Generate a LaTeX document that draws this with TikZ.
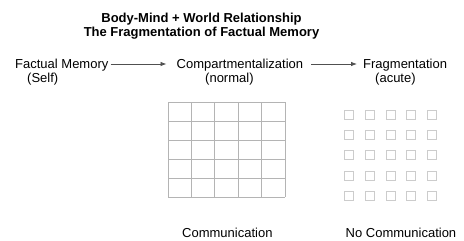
\documentclass[tikz,border=0pt]{standalone}
\usepackage{fontspec}
\setmainfont{Liberation Sans}
\usetikzlibrary{arrows.meta}
\definecolor{cellgray}{HTML}{B4B4B4}
\definecolor{boxgray}{HTML}{CCCCCC}
\definecolor{arrowgray}{HTML}{505050}
\tikzset{
  lbl/.style={anchor=base west,inner sep=0pt,text height=10pt,text depth=2pt,font=\fontsize{13}{15}\selectfont},
  ttl/.style={anchor=base,inner sep=0pt,font=\fontsize{13}{15}\selectfont\bfseries},
  flow/.style={draw=arrowgray,line width=0.8pt,-{Latex[length=6pt,width=4.5pt]}},
  cell/.style={draw=cellgray,line width=1pt},
  bit/.style={draw=boxgray,line width=1pt}
}
\begin{document}
\begin{tikzpicture}[x=1pt,y=-1pt]
\useasboundingbox (0,0) rectangle (464,241);

\node[ttl] (head) at (201.5,23) {Body-Mind + World Relationship};
\node[ttl] (subhead) at (201.5,37) {The Fragmentation of Factual Memory};

\node[lbl] (memory) at (15,68) {Factual Memory};
\node[lbl] (self) at (27,82) {(Self)};
\node[lbl] (compart) at (176.5,68) {Compartmentalization};
\node[lbl] (normal) at (205,82) {(normal)};
\node[lbl] (frag) at (363,68) {Fragmentation};
\node[lbl] (acute) at (375,82) {(acute)};

\draw[flow,shorten <=2pt,shorten >=10pt] (memory.east) -- (compart.west);
\draw[flow,shorten <=8pt,shorten >=6pt] (compart.east) -- (frag.west);

\foreach \i in {0,...,5}
  \draw[cell] (168+23.4*\i,102) -- (168+23.4*\i,197);
\foreach \j in {0,...,5}
  \draw[cell] (168,102+19*\j) -- (285,102+19*\j);

\foreach \i in {0,...,4}
  \foreach \j in {0,...,4}
    \draw[bit] (344.5+20.8*\i,110.5+20.2*\j) rectangle ++(9,9);

\node[lbl] (comm) at (182,237) {Communication};
\node[lbl] (nocomm) at (345.5,237) {No Communication};
\end{tikzpicture}
\end{document}
